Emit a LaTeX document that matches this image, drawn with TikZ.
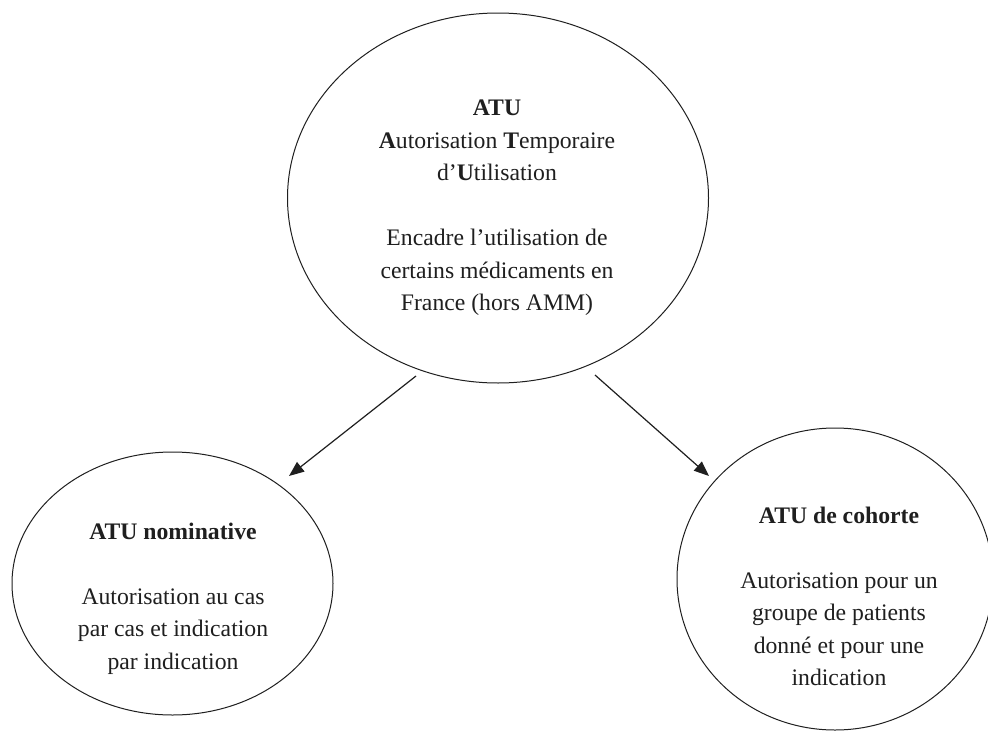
\documentclass[tikz,border=0pt]{standalone}
\usepackage{fontspec}
\setmainfont{Liberation Serif}
\usetikzlibrary{arrows.meta,shapes.geometric}
\definecolor{ink}{HTML}{1F1F1F}
\tikzset{
  bubble/.style={draw=ink, line width=1pt, ellipse, inner sep=0pt},
  label/.style={align=center, inner sep=0pt, anchor=north, text=ink,
    font=\fontsize{23.7}{32.5}\selectfont},
  arrowline/.style={draw=ink, line width=1.2pt, -{Triangle[length=15pt,width=12pt]}}
}
\begin{document}
\begin{tikzpicture}[x=1pt,y=-1pt]
\useasboundingbox (0,0) rectangle (988,731);
\clip (0,0) rectangle (988,731);
\fill[white] (0,0) rectangle (988,731);
% ellipses
\node[bubble, minimum width=421pt, minimum height=370pt] (top) at (498,198) {};
\node[bubble, minimum width=321pt, minimum height=263pt] (left) at (172.5,583.5) {};
\node[bubble, minimum width=316pt, minimum height=302pt] (right) at (835,579) {};
% texts
\node[label] (toptext) at (497,100) {\textbf{ATU}\\
  \textbf{A}utorisation \textbf{T}emporaire\\
  d’\textbf{U}tilisation\\[32.5pt]
  Encadre l’utilisation de\\
  certains médicaments en\\
  France (hors AMM)};
\node[label] (lefttext) at (173,523) {\textbf{ATU nominative}\\[32pt]
  Autorisation au cas\\
  par cas et indication\\
  par indication};
\node[label] (righttext) at (839,507) {\textbf{ATU de cohorte}\\[32pt]
  Autorisation pour un\\
  groupe de patients\\
  donné et pour une\\
  indication};
% arrows
\coordinate (s1) at (416,376);
\coordinate (e1) at (289,476);
\coordinate (s2) at (595,375);
\coordinate (e2) at (709,476);
\draw[arrowline] (s1) -- (e1);
\draw[arrowline] (s2) -- (e2);
\end{tikzpicture}
\end{document}
